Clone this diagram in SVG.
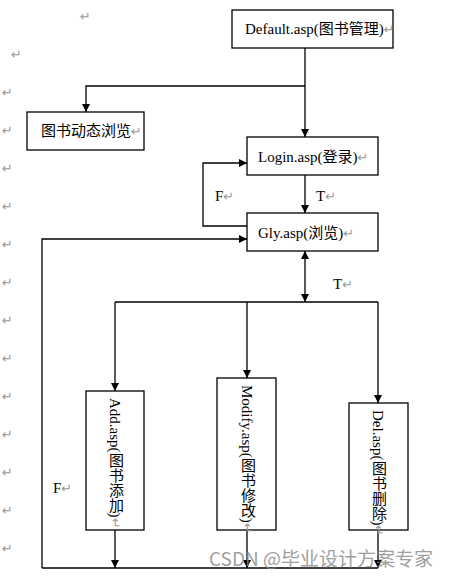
<svg xmlns="http://www.w3.org/2000/svg" width="454" height="580" viewBox="0 0 454 580">
<defs>
<marker id="ah" viewBox="0 0 10 10" refX="10" refY="5" markerWidth="8" markerHeight="8" markerUnits="userSpaceOnUse" orient="auto-start-reverse">
<path d="M0,0 L10,5 L0,10 z" fill="#000"/>
</marker>
<style>
.box{fill:#fff;stroke:#000;stroke-width:1.3}
.t{font-family:"Liberation Serif","Noto Sans CJK SC",serif;font-size:15px;fill:#000}
.v{font-family:"Liberation Serif","Noto Sans CJK SC",serif;font-size:15px;fill:#000;writing-mode:vertical-rl;text-orientation:mixed}
.m{font-family:"DejaVu Sans",sans-serif;font-size:13px;fill:#999}
.ln{fill:none;stroke:#000;stroke-width:1.3}
.a{marker-end:url(#ah)}
.wm{font-family:"Noto Sans CJK SC",sans-serif;font-size:19px;fill:#888;opacity:0.8}
</style>
</defs>
<rect width="454" height="580" fill="#fff"/>
<g id="marks" class="m">
<text x="80" y="21">↵</text>
<text x="11" y="59">↵</text>
<text x="2" y="97">↵</text>
<text x="2" y="135">↵</text>
<text x="2" y="173">↵</text>
<text x="2" y="211">↵</text>
<text x="2" y="249">↵</text>
<text x="2" y="287">↵</text>
<text x="2" y="325">↵</text>
<text x="2" y="363">↵</text>
<text x="2" y="401">↵</text>
<text x="2" y="439">↵</text>
<text x="2" y="477">↵</text>
<text x="2" y="515">↵</text>
<text x="2" y="553">↵</text>
</g>
<g id="connectors">
<path class="ln a" d="M305,48 V137"/>
<path class="ln a" d="M305,86 H86 V112"/>
<path class="ln a" d="M305,175 V213"/>
<path class="ln a" d="M247,226 H203 V163 H247"/>
<path class="ln a" d="M42,568 V239 H247"/>
<path class="ln" d="M42,568 H378"/>
<path class="ln a" d="M305,278 V251"/>
<path class="ln a" d="M305,278 V302"/>
<path class="ln" d="M115,302 H378"/>
<path class="ln a" d="M115,302 V391"/>
<path class="ln a" d="M247,302 V378"/>
<path class="ln a" d="M378,302 V403"/>
<path class="ln a" d="M115,530 V568"/>
<path class="ln a" d="M247,530 V568"/>
<path class="ln a" d="M378,530 V568"/>
<text class="t" x="215" y="201">F<tspan class="m">↵</tspan></text>
<text class="t" x="316" y="201">T<tspan class="m">↵</tspan></text>
<text class="t" x="333" y="289">T<tspan class="m">↵</tspan></text>
<text class="t" x="53" y="493">F<tspan class="m">↵</tspan></text>
</g>
<g id="default">
<rect class="box" x="232" y="10" width="161" height="38"/>
<text class="t" x="245" y="34">Default.asp(图书管理)<tspan class="m">↵</tspan></text>
</g>
<g id="dynamic">
<rect class="box" x="27" y="112" width="117" height="38"/>
<text class="t" x="41" y="136">图书动态浏览<tspan class="m">↵</tspan></text>
</g>
<g id="login">
<rect class="box" x="247" y="137" width="131" height="38"/>
<text class="t" x="258" y="162">Login.asp(登录)<tspan class="m">↵</tspan></text>
</g>
<g id="gly">
<rect class="box" x="247" y="213" width="131" height="38"/>
<text class="t" x="258" y="238">Gly.asp(浏览)<tspan class="m">↵</tspan></text>
</g>
<g id="add">
<rect class="box" x="86" y="391" width="58" height="139"/>
<text class="v" x="115" y="398">Add.asp(图书添加)<tspan class="m">↵</tspan></text>
</g>
<g id="modify">
<rect class="box" x="217" y="378" width="59" height="152"/>
<text class="v" x="247" y="385">Modify.asp(图书修改)<tspan class="m">↵</tspan></text>
</g>
<g id="del">
<rect class="box" x="349" y="403" width="59" height="127"/>
<text class="v" x="378" y="410">Del.asp(图书删除)<tspan class="m">↵</tspan></text>
</g>
<text class="wm" x="209" y="566">CSDN @毕业设计方案专家</text>
</svg>
